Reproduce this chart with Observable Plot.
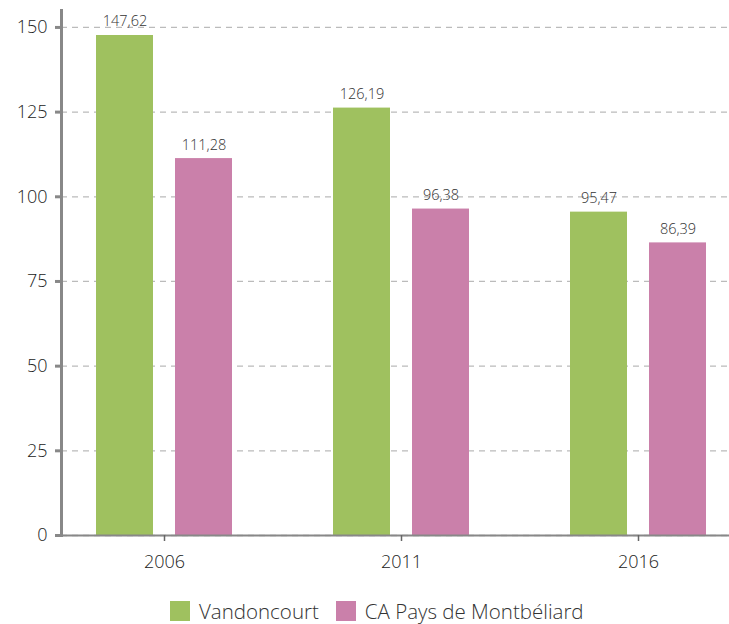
<!DOCTYPE html>
<html><head><meta charset="utf-8">
<script src="https://cdn.jsdelivr.net/npm/d3@7"></script>
<script src="https://cdn.jsdelivr.net/npm/@observablehq/plot@0.6"></script>
<style>
body{margin:0;background:#fff;font-family:"Open Sans",sans-serif;font-weight:300;overflow:hidden;width:729px;height:624px;position:relative}
#chart svg{display:block}
#legend{position:absolute;left:170px;top:599px;display:flex;align-items:center;font-size:20.5px;line-height:24px;height:24px;color:#333}
#legend .sw{width:20px;height:20px;margin-right:9px;flex:none}
#legend .it{display:flex;align-items:center;margin-right:17px;white-space:nowrap}
</style></head><body><div id="chart"></div><div id="legend"></div>
<script>
const years = ["2006","2011","2016"];
const series = ["Vandoncourt","CA Pays de Montbéliard"];
const vandoncourt = [147.62,126.19,95.47];
const montbeliard = [111.28,96.38,86.39];
const colors = ["#9fc15f","#ca80aa"];
const yTicks = [0,25,50,75,100,125,150];

const dataV = years.map((y,i)=>({year:y, series:series[0], value:vandoncourt[i]}));
const dataM = years.map((y,i)=>({year:y, series:series[1], value:montbeliard[i]}));
const fmt = v => v.toFixed(2).replace(".", ",");

const plot = Plot.plot({
  width:729, height:590, marginLeft:61, marginRight:-11, marginTop:10, marginBottom:55,
  style:{fontFamily:"Open Sans", fontSize:"15px", fontWeight:300, color:"#333", background:"transparent", overflow:"visible"},
  x:{domain:years, paddingInner:0.2, paddingOuter:0.0295, axis:null},
  y:{domain:[0,155], axis:null},
  marks:[
    Plot.gridY(yTicks, {stroke:"#bbb", strokeOpacity:1, strokeWidth:1.3, strokeDasharray:"6,5"}),
    Plot.barY(dataV, {x:"year", y:"value", fill:colors[0], insetLeft:27, insetRight:106}),
    Plot.barY(dataM, {x:"year", y:"value", fill:colors[1], insetLeft:106, insetRight:27}),
    Plot.text(dataV, {x:"year", y:"value", text:d=>fmt(d.value), dx:-39.5, dy:-9, lineAnchor:"bottom", fill:"#333", fontSize:14.5}),
    Plot.text(dataM, {x:"year", y:"value", text:d=>fmt(d.value), dx:39.5, dy:-9, lineAnchor:"bottom", fill:"#333", fontSize:14.5}),
    Plot.ruleY([0], {stroke:"#888", strokeWidth:2}),
    Plot.frame({anchor:"left", stroke:"#888", strokeWidth:3}),
    Plot.axisY(yTicks, {tickSize:6, tickPadding:8, stroke:"#888", strokeWidth:3, fill:"#222", fontSize:18, label:null}),
    Plot.axisX({tickSize:6, tickPadding:14, stroke:"#666", strokeWidth:1.5, fill:"#222", fontSize:18, label:null})
  ]
});
document.getElementById("chart").appendChild(plot);

const leg = document.getElementById("legend");
series.forEach((s,i)=>{
  const it = document.createElement("div"); it.className="it";
  const sw = document.createElement("div"); sw.className="sw"; sw.style.background=colors[i];
  const t = document.createElement("span"); t.textContent=s;
  it.appendChild(sw); it.appendChild(t); leg.appendChild(it);
});
</script></body></html>
